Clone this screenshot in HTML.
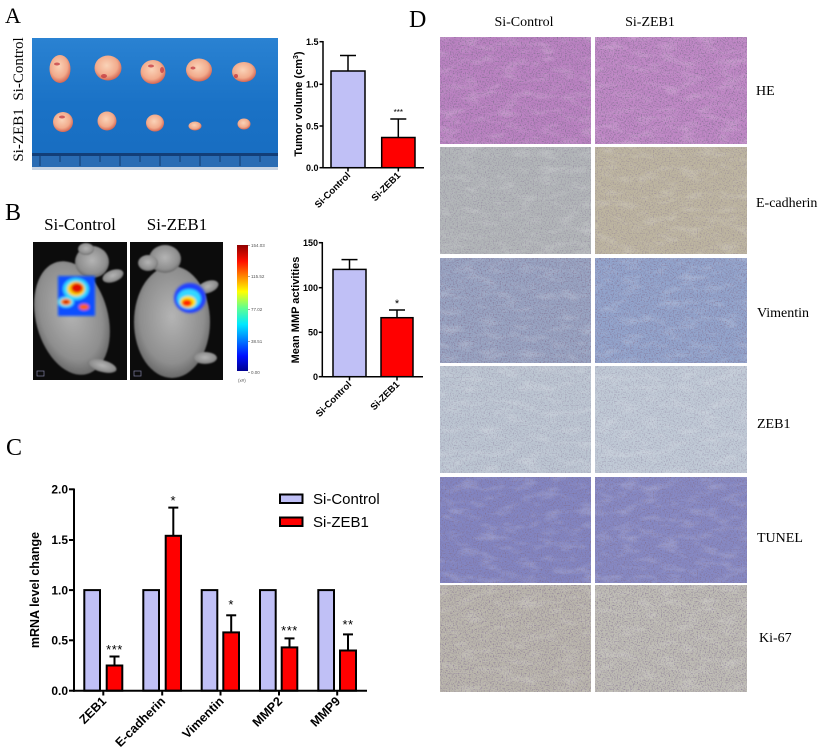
<!DOCTYPE html>
<html>
<head>
<meta charset="utf-8">
<style>
html,body{margin:0;padding:0;background:#fff;}
svg{display:block;}
.sans{font-family:"Liberation Sans",Arial,sans-serif;}
.serif{font-family:"Liberation Serif","Times New Roman",serif;}
</style>
</head>
<body>
<svg width="824" height="755" viewBox="0 0 824 755" xmlns="http://www.w3.org/2000/svg">
<defs>
  <radialGradient id="tum" cx="45%" cy="40%" r="62%">
    <stop offset="0" stop-color="#fad3b8"/>
    <stop offset="0.65" stop-color="#f2ab8c"/>
    <stop offset="1" stop-color="#d2604e"/>
  </radialGradient>
  <radialGradient id="mg" cx="50%" cy="45%" r="60%">
    <stop offset="0" stop-color="#b4b4b4"/>
    <stop offset="0.7" stop-color="#8e8e8e"/>
    <stop offset="1" stop-color="#5a5a5a"/>
  </radialGradient>
  <linearGradient id="cbar" x1="0" y1="1" x2="0" y2="0">
    <stop offset="0" stop-color="#000090"/>
    <stop offset="0.12" stop-color="#0010ff"/>
    <stop offset="0.37" stop-color="#00e8ff"/>
    <stop offset="0.5" stop-color="#60ff90"/>
    <stop offset="0.63" stop-color="#ffff00"/>
    <stop offset="0.87" stop-color="#ff1000"/>
    <stop offset="1" stop-color="#900000"/>
  </linearGradient>
  <linearGradient id="tray" x1="0" y1="0" x2="0" y2="1">
    <stop offset="0" stop-color="#2a82d2"/>
    <stop offset="0.5" stop-color="#1a72c6"/>
    <stop offset="1" stop-color="#176cc0"/>
  </linearGradient>
  <filter id="spk" x="0" y="0" width="1" height="1">
    <feTurbulence type="fractalNoise" baseFrequency="0.75" numOctaves="2" seed="3"/>
    <feColorMatrix type="matrix" values="0 0 0 0 0.22  0 0 0 0 0.16  0 0 0 0 0.28  3 0 0 0 -1.45"/>
  </filter>
  <filter id="spk2" x="0" y="0" width="1" height="1">
    <feTurbulence type="fractalNoise" baseFrequency="0.05 0.12" numOctaves="3" seed="7"/>
    <feColorMatrix type="matrix" values="0 0 0 0 1  0 0 0 0 1  0 0 0 0 1  2.2 0 0 0 -1.05"/>
  </filter>
  <filter id="blur1"><feGaussianBlur stdDeviation="1.2"/></filter>
  <filter id="blur2"><feGaussianBlur stdDeviation="0.8"/></filter>
  <clipPath id="cpL"><rect x="33" y="242" width="94" height="138"/></clipPath>
  <clipPath id="cpR"><rect x="130" y="242" width="93" height="138"/></clipPath>
</defs>

<!-- ============ PANEL A ============ -->
<text x="5" y="23" class="serif" font-size="22">A</text>
<text class="serif" font-size="15" text-anchor="middle" transform="translate(23,69) rotate(-90)">Si-Control</text>
<text class="serif" font-size="15" text-anchor="middle" transform="translate(23,135) rotate(-90)">Si-ZEB1</text>

<rect x="32" y="38" width="246" height="132" fill="url(#tray)"/>
<rect x="32" y="153" width="246" height="3" fill="#123e78"/>
<rect x="32" y="156" width="246" height="12" fill="#2a6cb4"/>
<g stroke="#0e2e5a" stroke-width="0.8">
  <line x1="40" y1="156" x2="40" y2="166"/><line x1="60" y1="156" x2="60" y2="162"/>
  <line x1="80" y1="156" x2="80" y2="166"/><line x1="100" y1="156" x2="100" y2="162"/>
  <line x1="120" y1="156" x2="120" y2="166"/><line x1="140" y1="156" x2="140" y2="162"/>
  <line x1="160" y1="156" x2="160" y2="166"/><line x1="180" y1="156" x2="180" y2="162"/>
  <line x1="200" y1="156" x2="200" y2="166"/><line x1="220" y1="156" x2="220" y2="162"/>
  <line x1="240" y1="156" x2="240" y2="166"/><line x1="260" y1="156" x2="260" y2="162"/>
</g>
<rect x="32" y="167" width="246" height="3" fill="#c8d4e4"/>

<g fill="url(#tum)">
  <ellipse cx="60" cy="69" rx="10.5" ry="14"/>
  <ellipse cx="108" cy="68" rx="13.5" ry="12.5"/>
  <ellipse cx="153" cy="72" rx="12.5" ry="12"/>
  <ellipse cx="199" cy="70" rx="13" ry="11.5"/>
  <ellipse cx="244" cy="72" rx="12" ry="10"/>
  <ellipse cx="63" cy="122" rx="10" ry="10"/>
  <ellipse cx="107" cy="121" rx="9.5" ry="9.5"/>
  <ellipse cx="155" cy="123" rx="9" ry="8.5"/>
  <ellipse cx="195" cy="126" rx="6.5" ry="4.5"/>
  <ellipse cx="244" cy="124" rx="6.5" ry="5.5"/>
</g>
<g fill="#c0303a" opacity="0.7">
  <ellipse cx="57" cy="64" rx="3" ry="1.5"/><ellipse cx="104" cy="76" rx="3" ry="2"/>
  <ellipse cx="162" cy="70" rx="2" ry="3"/><ellipse cx="193" cy="68" rx="2.5" ry="1.5"/>
  <ellipse cx="236" cy="76" rx="2" ry="2"/><ellipse cx="62" cy="117" rx="3" ry="1.5"/>
  <ellipse cx="151" cy="66" rx="3" ry="1.5"/>
</g>

<!-- Tumor volume chart -->
<g class="sans" font-weight="bold">
  <rect x="331" y="71" width="34" height="96.7" fill="#c0c0f6" stroke="#000" stroke-width="1.5"/>
  <rect x="381.7" y="137.5" width="33.3" height="30.2" fill="#ff0000" stroke="#000" stroke-width="1.5"/>
  <g stroke="#000" stroke-width="1.5" fill="none">
    <line x1="348" y1="71" x2="348" y2="55.5"/><line x1="340" y1="55.5" x2="356" y2="55.5"/>
    <line x1="398.3" y1="137.5" x2="398.3" y2="119"/><line x1="390.3" y1="119" x2="406.3" y2="119"/>
    <line x1="323" y1="41" x2="323" y2="168"/>
    <line x1="323" y1="167.7" x2="424" y2="167.7"/>
    <line x1="319.5" y1="41.7" x2="323" y2="41.7"/><line x1="319.5" y1="84.3" x2="323" y2="84.3"/>
    <line x1="319.5" y1="126" x2="323" y2="126"/><line x1="319.5" y1="167.7" x2="323" y2="167.7"/>
    <line x1="348" y1="167.7" x2="348" y2="171.5"/><line x1="398.3" y1="167.7" x2="398.3" y2="171.5"/>
  </g>
  <g font-size="9" text-anchor="end">
    <text x="318.5" y="45">1.5</text>
    <text x="318.5" y="87.6">1.0</text>
    <text x="318.5" y="129.3">0.5</text>
    <text x="318.5" y="171">0.0</text>
  </g>
  <text font-size="8" text-anchor="middle" x="398.3" y="115" font-weight="normal">***</text>
  <text font-size="11" text-anchor="middle" transform="translate(302,104) rotate(-90)">Tumor volume (cm<tspan font-size="7" dy="-4">3</tspan><tspan dy="4">)</tspan></text>
  <text font-size="9.5" text-anchor="end" transform="translate(351,176) rotate(-45)">Si-Control</text>
  <text font-size="9.5" text-anchor="end" transform="translate(401,176) rotate(-45)">Si-ZEB1</text>
</g>

<!-- ============ PANEL B ============ -->
<text x="5" y="220" class="serif" font-size="24">B</text>
<text x="80" y="230" class="serif" font-size="17" text-anchor="middle">Si-Control</text>
<text x="177" y="230" class="serif" font-size="17" text-anchor="middle">Si-ZEB1</text>

<rect x="33" y="242" width="94" height="138" fill="#0c0c0c"/>
<rect x="130" y="242" width="93" height="138" fill="#0c0c0c"/>

<g clip-path="url(#cpL)">
  <g fill="url(#mg)" filter="url(#blur2)">
    <ellipse cx="72" cy="318" rx="36" ry="58" transform="rotate(-15 72 318)"/>
    <ellipse cx="92" cy="262" rx="17" ry="16"/>
    <ellipse cx="86" cy="249" rx="8" ry="6"/>
    <ellipse cx="113" cy="276" rx="11" ry="6" transform="rotate(-20 113 276)"/>
    <ellipse cx="102" cy="366" rx="15" ry="6" transform="rotate(15 102 366)"/>
  </g>
  <g filter="url(#blur1)">
    <rect x="58" y="276" width="37" height="40" fill="#1050ff"/>
    <ellipse cx="76" cy="289" rx="13" ry="11" fill="#30d8ff"/>
    <ellipse cx="76" cy="289" rx="9" ry="7.5" fill="#ffd000"/>
    <ellipse cx="77" cy="288" rx="6" ry="5" fill="#e01000"/>
    <ellipse cx="66" cy="302" rx="8" ry="5.5" fill="#40e0ff"/>
    <ellipse cx="66" cy="302" rx="5.5" ry="3.5" fill="#ff9000"/>
    <ellipse cx="66" cy="302" rx="3" ry="2" fill="#d01000"/>
    <ellipse cx="84" cy="307" rx="5" ry="3" fill="#ff6000"/>
  </g>
  <rect x="37" y="371" width="7" height="5" fill="none" stroke="#8080a0" stroke-width="0.7"/>
</g>
<g clip-path="url(#cpR)">
  <g fill="url(#mg)" filter="url(#blur2)">
    <ellipse cx="172" cy="322" rx="38" ry="56"/>
    <ellipse cx="165" cy="259" rx="16" ry="14"/>
    <ellipse cx="148" cy="263" rx="10" ry="8"/>
    <ellipse cx="208" cy="287" rx="11" ry="6" transform="rotate(-20 208 287)"/>
    <ellipse cx="205" cy="358" rx="12" ry="6"/>
  </g>
  <g filter="url(#blur1)">
    <ellipse cx="190" cy="298" rx="16" ry="15" fill="#2040ff"/>
    <ellipse cx="189" cy="299" rx="12" ry="10" fill="#30d8ff"/>
    <ellipse cx="188" cy="302" rx="8" ry="6" fill="#ffe000"/>
    <ellipse cx="187" cy="303" rx="5" ry="3.5" fill="#ff2000"/>
  </g>
  <rect x="134" y="371" width="7" height="5" fill="none" stroke="#8080a0" stroke-width="0.7"/>
</g>

<rect x="237" y="245" width="11" height="126" fill="url(#cbar)"/>
<g class="sans" font-size="4.5" fill="#555">
  <text x="251" y="247">154.03</text>
  <text x="251" y="278">115.52</text>
  <text x="251" y="311">77.02</text>
  <text x="251" y="343">38.51</text>
  <text x="251" y="374">0.00</text>
  <text x="238" y="382">(x#)</text>
</g>
<g stroke="#555" stroke-width="0.5">
  <line x1="248" y1="245.5" x2="250" y2="245.5"/><line x1="248" y1="276.5" x2="250" y2="276.5"/>
  <line x1="248" y1="309.5" x2="250" y2="309.5"/><line x1="248" y1="341.5" x2="250" y2="341.5"/>
  <line x1="248" y1="372.5" x2="250" y2="372.5"/>
</g>

<!-- MMP chart -->
<g class="sans" font-weight="bold">
  <rect x="333" y="269.4" width="33" height="107.3" fill="#c0c0f6" stroke="#000" stroke-width="1.5"/>
  <rect x="381" y="317.7" width="32" height="59" fill="#ff0000" stroke="#000" stroke-width="1.5"/>
  <g stroke="#000" stroke-width="1.5" fill="none">
    <line x1="349.5" y1="269.4" x2="349.5" y2="259.6"/><line x1="341.5" y1="259.6" x2="357.5" y2="259.6"/>
    <line x1="397" y1="317.7" x2="397" y2="310"/><line x1="389" y1="310" x2="405" y2="310"/>
    <line x1="322.3" y1="242" x2="322.3" y2="377"/>
    <line x1="322.3" y1="376.7" x2="423" y2="376.7"/>
    <line x1="318.8" y1="242.7" x2="322.3" y2="242.7"/><line x1="318.8" y1="287.7" x2="322.3" y2="287.7"/>
    <line x1="318.8" y1="332.3" x2="322.3" y2="332.3"/><line x1="318.8" y1="376.7" x2="322.3" y2="376.7"/>
    <line x1="349.5" y1="376.7" x2="349.5" y2="380.5"/><line x1="397" y1="376.7" x2="397" y2="380.5"/>
  </g>
  <g font-size="9" text-anchor="end">
    <text x="318" y="246">150</text>
    <text x="318" y="291">100</text>
    <text x="318" y="335.6">50</text>
    <text x="318" y="380">0</text>
  </g>
  <text font-size="11" text-anchor="middle" x="397" y="307" font-weight="normal">*</text>
  <text font-size="11" text-anchor="middle" transform="translate(299,310) rotate(-90)">Mean MMP activities</text>
  <text font-size="9.5" text-anchor="end" transform="translate(352,385) rotate(-45)">Si-Control</text>
  <text font-size="9.5" text-anchor="end" transform="translate(400,385) rotate(-45)">Si-ZEB1</text>
</g>

<!-- ============ PANEL C ============ -->
<text x="6" y="455" class="serif" font-size="24">C</text>
<g class="sans">
  <g stroke="#000" stroke-width="2">
    <rect x="84.3" y="590.1" width="15.7" height="100.6" fill="#c0c0f6"/>
    <rect x="106.7" y="665.5" width="15.6" height="25.2" fill="#ff0000"/>
    <rect x="143.3" y="590.1" width="15.7" height="100.6" fill="#c0c0f6"/>
    <rect x="165.7" y="535.8" width="15.3" height="154.9" fill="#ff0000"/>
    <rect x="201.7" y="590.1" width="15.6" height="100.6" fill="#c0c0f6"/>
    <rect x="223.3" y="632.4" width="15.7" height="58.3" fill="#ff0000"/>
    <rect x="260" y="590.1" width="15.7" height="100.6" fill="#c0c0f6"/>
    <rect x="281.7" y="647.4" width="15.6" height="43.3" fill="#ff0000"/>
    <rect x="318.3" y="590.1" width="15.7" height="100.6" fill="#c0c0f6"/>
    <rect x="340" y="650.5" width="16" height="40.2" fill="#ff0000"/>
  </g>
  <g stroke="#000" stroke-width="2" fill="none">
    <line x1="114.5" y1="665.5" x2="114.5" y2="656.5"/><line x1="109.5" y1="656.5" x2="119.5" y2="656.5"/>
    <line x1="173.3" y1="535.8" x2="173.3" y2="507.6"/><line x1="168.3" y1="507.6" x2="178.3" y2="507.6"/>
    <line x1="231.2" y1="632.4" x2="231.2" y2="615.3"/><line x1="226.2" y1="615.3" x2="236.2" y2="615.3"/>
    <line x1="289.5" y1="647.4" x2="289.5" y2="638.4"/><line x1="284.5" y1="638.4" x2="294.5" y2="638.4"/>
    <line x1="348" y1="650.5" x2="348" y2="634.4"/><line x1="343" y1="634.4" x2="353" y2="634.4"/>
    <line x1="74" y1="488.5" x2="74" y2="691.7"/>
    <line x1="73" y1="690.7" x2="367" y2="690.7"/>
    <line x1="69" y1="489.3" x2="74" y2="489.3"/><line x1="69" y1="540" x2="74" y2="540"/>
    <line x1="69" y1="590.1" x2="74" y2="590.1"/><line x1="69" y1="640.3" x2="74" y2="640.3"/>
    <line x1="69" y1="690.7" x2="74" y2="690.7"/>
    <line x1="103.3" y1="690.7" x2="103.3" y2="695.5"/><line x1="162.2" y1="690.7" x2="162.2" y2="695.5"/>
    <line x1="220.5" y1="690.7" x2="220.5" y2="695.5"/><line x1="279" y1="690.7" x2="279" y2="695.5"/>
    <line x1="337.2" y1="690.7" x2="337.2" y2="695.5"/>
  </g>
  <g font-size="12" font-weight="bold" text-anchor="end">
    <text x="68" y="493.5">2.0</text>
    <text x="68" y="544.2">1.5</text>
    <text x="68" y="594.3">1.0</text>
    <text x="68" y="644.5">0.5</text>
    <text x="68" y="694.9">0.0</text>
  </g>
  <g font-size="13" text-anchor="middle" letter-spacing="0.5">
    <text x="114.5" y="654">***</text>
    <text x="173.3" y="505">*</text>
    <text x="231.2" y="609">*</text>
    <text x="289.5" y="635">***</text>
    <text x="348" y="629">**</text>
  </g>
  <g font-size="12.5" font-weight="bold" text-anchor="end">
    <text transform="translate(107,702) rotate(-45)">ZEB1</text>
    <text transform="translate(166,702) rotate(-45)">E-cadherin</text>
    <text transform="translate(224.5,702) rotate(-45)">Vimentin</text>
    <text transform="translate(283,702) rotate(-45)">MMP2</text>
    <text transform="translate(341,702) rotate(-45)">MMP9</text>
  </g>
  <text font-size="12.5" font-weight="bold" text-anchor="middle" transform="translate(39,590) rotate(-90)">mRNA level change</text>
  <rect x="280" y="494.5" width="22.5" height="8.5" fill="#c0c0f6" stroke="#000" stroke-width="2"/>
  <rect x="280" y="517.5" width="22.5" height="8.5" fill="#ff0000" stroke="#000" stroke-width="2"/>
  <text x="313" y="504" font-size="15">Si-Control</text>
  <text x="313" y="527" font-size="15">Si-ZEB1</text>
</g>

<!-- ============ PANEL D ============ -->
<text x="409" y="27" class="serif" font-size="24">D</text>
<text x="524" y="26" class="serif" font-size="14" text-anchor="middle">Si-Control</text>
<text x="650" y="26" class="serif" font-size="14" text-anchor="middle">Si-ZEB1</text>

<rect x="440" y="37" width="151" height="107" fill="#bb82c2"/>
<rect x="595" y="37" width="152" height="107" fill="#c088c6"/>
<rect x="440" y="147" width="151" height="107" fill="#b2b6b8"/>
<rect x="595" y="147" width="152" height="107" fill="#bdb5a0"/>
<rect x="440" y="258" width="151" height="105" fill="#98a4c2"/>
<rect x="595" y="258" width="152" height="105" fill="#92a4cc"/>
<rect x="440" y="366" width="151" height="107" fill="#bcc6d2"/>
<rect x="595" y="366" width="152" height="107" fill="#c0cad6"/>
<rect x="440" y="477" width="151" height="106" fill="#8285c2"/>
<rect x="595" y="477" width="152" height="106" fill="#8689c4"/>
<rect x="440" y="585" width="151" height="107" fill="#bab6ac"/>
<rect x="595" y="585" width="152" height="107" fill="#bebcb4"/>

<g>
  <rect x="440" y="37" width="151" height="107" filter="url(#spk)" opacity="0.95"/>
  <rect x="595" y="37" width="152" height="107" filter="url(#spk)" opacity="0.95"/>
  <rect x="440" y="147" width="151" height="107" filter="url(#spk)" opacity="0.5"/>
  <rect x="595" y="147" width="152" height="107" filter="url(#spk)" opacity="0.5"/>
  <rect x="440" y="258" width="151" height="105" filter="url(#spk)" opacity="0.8"/>
  <rect x="595" y="258" width="152" height="105" filter="url(#spk)" opacity="0.8"/>
  <rect x="440" y="366" width="151" height="107" filter="url(#spk)" opacity="0.45"/>
  <rect x="595" y="366" width="152" height="107" filter="url(#spk)" opacity="0.45"/>
  <rect x="440" y="477" width="151" height="106" filter="url(#spk)" opacity="0.85"/>
  <rect x="595" y="477" width="152" height="106" filter="url(#spk)" opacity="0.85"/>
  <rect x="440" y="585" width="151" height="107" filter="url(#spk)" opacity="0.75"/>
  <rect x="595" y="585" width="152" height="107" filter="url(#spk)" opacity="0.75"/>
</g>
<g opacity="0.2">
  <rect x="440" y="37" width="151" height="107" filter="url(#spk2)"/>
  <rect x="595" y="37" width="152" height="107" filter="url(#spk2)"/>
  <rect x="440" y="147" width="151" height="107" filter="url(#spk2)"/>
  <rect x="595" y="147" width="152" height="107" filter="url(#spk2)"/>
  <rect x="440" y="258" width="151" height="105" filter="url(#spk2)"/>
  <rect x="595" y="258" width="152" height="105" filter="url(#spk2)"/>
  <rect x="440" y="366" width="151" height="107" filter="url(#spk2)"/>
  <rect x="595" y="366" width="152" height="107" filter="url(#spk2)"/>
  <rect x="440" y="477" width="151" height="106" filter="url(#spk2)"/>
  <rect x="595" y="477" width="152" height="106" filter="url(#spk2)"/>
  <rect x="440" y="585" width="151" height="107" filter="url(#spk2)"/>
  <rect x="595" y="585" width="152" height="107" filter="url(#spk2)"/>
</g>

<g class="serif" font-size="14">
  <text x="756" y="95">HE</text>
  <text x="756" y="207">E-cadherin</text>
  <text x="757" y="317">Vimentin</text>
  <text x="757" y="428">ZEB1</text>
  <text x="757" y="542">TUNEL</text>
  <text x="759" y="642">Ki-67</text>
</g>
</svg>
</body>
</html>
